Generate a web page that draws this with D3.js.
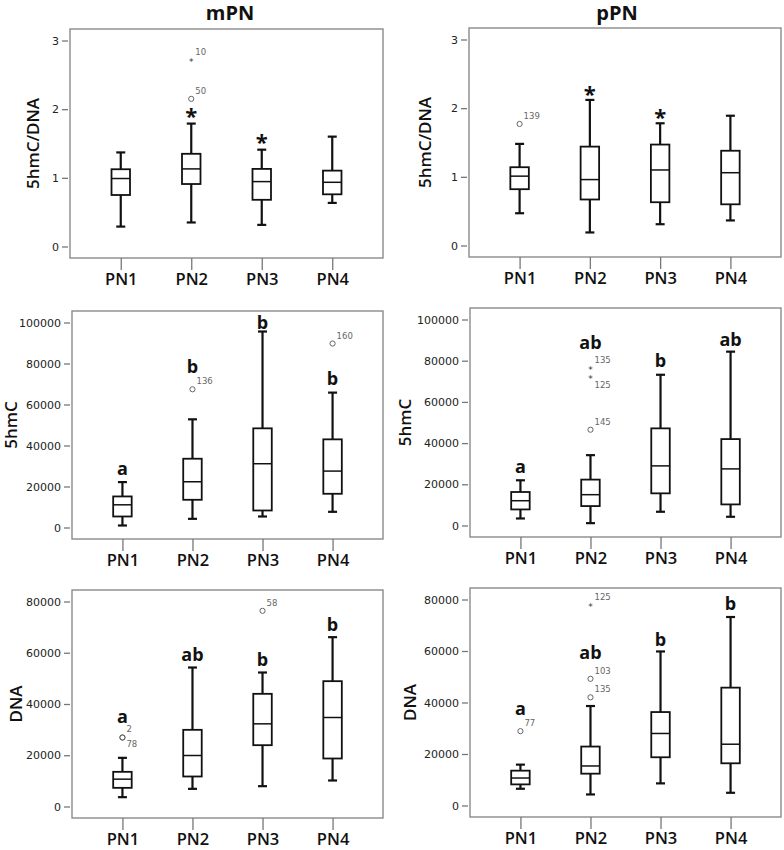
<!DOCTYPE html>
<html><head><meta charset="utf-8">
<script src="https://cdn.jsdelivr.net/npm/d3@7"></script>
<style>
body{margin:0;background:#fff;}
svg{display:block;}
</style></head>
<body>
<svg id="chart" width="784" height="850"></svg>
<script>
const categories = ["PN1","PN2","PN3","PN4"];
const columnTitles = ["mPN","pPN"];
const ratioTicks = [0,1,2,3];
const hmcTicks = [0,20000,40000,60000,80000,100000];
const dnaTicks = [0,20000,40000,60000,80000];

// box stats per category: [lower whisker, Q1, median, Q3, upper whisker]
const mPN_ratio = [[0.29,0.75,0.99,1.125,1.37],[0.35,0.91,1.13,1.35,1.79],[0.315,0.68,0.945,1.13,1.41],[0.635,0.76,0.935,1.105,1.6]];
const pPN_ratio = [[0.47,0.82,1.01,1.14,1.48],[0.19,0.67,0.96,1.44,2.12],[0.31,0.63,1.10,1.47,1.78],[0.365,0.60,1.06,1.38,1.89]];
const mPN_5hmC = [[980,5370,11070,15150,22150],[4230,13520,22310,33550,52770],[5370,8300,31110,48370,95600],[7650,16450,27520,43000,65800]];
const pPN_5hmC = [[3410,7800,12030,16260,21950],[1140,9430,14960,22280,34150],[6670,15610,28940,47150,73170],[4230,10240,27480,41950,84390]];
const mPN_DNA = [[3640,7280,10670,13530,18990],[6890,11710,19900,29920,54240],[7930,23930,32260,43970,52290],[10150,18730,34730,48910,66080]];
const pPN_DNA = [[6500,8200,10670,13530,15870],[4290,12360,15350,22890,38630],[8590,18730,27970,36290,59820],[4940,16390,23800,45770,73200]];

// outliers: [category, value, case label, kind ("o" outlier, "*" extreme), label below?]
const mPN_ratio_out = [["PN2",2.71,"10","*",false],["PN2",2.15,"50","o",false]];
const pPN_ratio_out = [["PN1",1.77,"139","o",false]];
const mPN_5hmC_out = [["PN2",67420,"136","o",false],["PN4",89740,"160","o",false]];
const pPN_5hmC_out = [["PN2",76260,"135","*",false],["PN2",71700,"125","*",true],["PN2",46500,"145","o",false]];
const mPN_DNA_out = [["PN1",26930,"2","o",false],["PN1",26930,"78","o",true],["PN3",76360,"58","o",false]];
const pPN_DNA_out = [["PN1",28880,"77","o",false],["PN2",77790,"125","*",false],["PN2",49190,"103","o",false],["PN2",42010,"135","o",false]];

// significance annotations: [category, text, level]
const mPN_ratio_sig = [["PN2","*",1.96],["PN3","*",1.575]];
const pPN_ratio_sig = [["PN2","*",2.27],["PN3","*",1.93]];
const mPN_5hmC_sig = [["PN1","a",28340],["PN2","b",78500],["PN3","b",100000],["PN4","b",72310]];
const pPN_5hmC_sig = [["PN1","a",28290],["PN2","ab",88620],["PN3","b",80000],["PN4","ab",90240]];
const mPN_DNA_sig = [["PN1","a",35120],["PN2","ab",59190],["PN3","b",57240],["PN4","b",70890]];
const pPN_DNA_sig = [["PN1","a",37460],["PN2","ab",59190],["PN3","b",64390],["PN4","b",78310]];

const panels = [
  {frame:[70,29,313,229], ylab:"5hmC/DNA", ylabOff:37, ticks:ratioTicks, box:mPN_ratio, out:mPN_ratio_out, sig:mPN_ratio_sig},
  {frame:[469,28,312,229], ylab:"5hmC/DNA", ylabOff:44, ticks:ratioTicks, box:pPN_ratio, out:pPN_ratio_out, sig:pPN_ratio_sig},
  {frame:[72,311,311,228], ylab:"5hmC", ylabOff:61, ticks:hmcTicks, box:mPN_5hmC, out:mPN_5hmC_out, sig:mPN_5hmC_sig},
  {frame:[470,308,311,229], ylab:"5hmC", ylabOff:65, ticks:hmcTicks, box:pPN_5hmC, out:pPN_5hmC_out, sig:pPN_5hmC_sig},
  {frame:[72,590,311,228], ylab:"DNA", ylabOff:56, ticks:dnaTicks, box:mPN_DNA, out:mPN_DNA_out, sig:mPN_DNA_sig},
  {frame:[470,588,311,229], ylab:"DNA", ylabOff:60, ticks:dnaTicks, box:pPN_DNA, out:pPN_DNA_out, sig:pPN_DNA_sig}
];

const svg = d3.select("#chart");
const font = "'Open Sans', sans-serif";

// column titles
[[230,"mPN"],[617,"pPN"]].forEach((t,i)=>{
  svg.append("text").attr("x",t[0]).attr("y",20).attr("text-anchor","middle")
    .attr("font-family",font).attr("font-weight",700).attr("font-size",20).attr("fill","#111")
    .text(columnTitles[i]);
});

panels.forEach(p=>{
  const [fx,fy,fw,fh] = p.frame;
  const g = svg.append("g");
  const x = d3.scalePoint().domain(categories).range([fx,fx+fw]).padding(0.72);
  const y = d3.scaleLinear().domain([0,d3.max(p.ticks)]).range([fy+fh-11.5, fy+11.5]);

  // frame
  g.append("rect").attr("x",fx).attr("y",fy).attr("width",fw).attr("height",fh)
    .attr("fill","none").attr("stroke","#8a8a8a").attr("stroke-width",1.4);

  // y axis
  const yAxis = d3.axisLeft(y).tickValues(p.ticks).tickSize(6).tickPadding(3).tickFormat(d3.format("d"));
  const ya = g.append("g").attr("transform",`translate(${fx-2},0)`).call(yAxis);
  ya.select(".domain").remove();
  ya.selectAll(".tick line").attr("stroke","#777").attr("stroke-width",1.3);
  ya.selectAll(".tick text").attr("font-family","'DejaVu Sans', sans-serif").attr("font-size",11)
    .attr("fill","#222").attr("font-weight",400);

  // x axis
  const xAxis = d3.axisBottom(x).tickSize(12).tickPadding(3);
  const xa = g.append("g").attr("transform",`translate(0,${fy+fh})`).call(xAxis);
  xa.select(".domain").remove();
  xa.selectAll(".tick line").attr("stroke","#777").attr("stroke-width",1.3);
  xa.selectAll(".tick text").attr("font-family",font).attr("font-size",16.5).attr("font-weight",600)
    .attr("fill","#111");

  // y label
  g.append("text").attr("transform",`translate(${fx-p.ylabOff},${fy+fh/2}) rotate(-90)`)
    .attr("text-anchor","middle").attr("dy","0.35em")
    .attr("font-family",font).attr("font-size",17).attr("font-weight",600).attr("fill","#111")
    .text(p.ylab);

  // boxes
  const bw = 18.5, cw = 9;
  categories.forEach((c,i)=>{
    const s = p.box[i];
    const cx = x(c);
    const bg = g.append("g").attr("stroke","#111").attr("fill","none");
    bg.append("line").attr("x1",cx).attr("x2",cx).attr("y1",y(s[3])).attr("y2",y(s[4])).attr("stroke-width",2.2);
    bg.append("line").attr("x1",cx).attr("x2",cx).attr("y1",y(s[0])).attr("y2",y(s[1])).attr("stroke-width",2.2);
    bg.append("line").attr("x1",cx-cw/2).attr("x2",cx+cw/2).attr("y1",y(s[4])).attr("y2",y(s[4])).attr("stroke-width",2.2);
    bg.append("line").attr("x1",cx-cw/2).attr("x2",cx+cw/2).attr("y1",y(s[0])).attr("y2",y(s[0])).attr("stroke-width",2.2);
    bg.append("rect").attr("x",cx-bw/2).attr("y",y(s[3])).attr("width",bw).attr("height",y(s[1])-y(s[3]))
      .attr("fill","#fff").attr("stroke-width",1.8);
    bg.append("line").attr("x1",cx-bw/2).attr("x2",cx+bw/2).attr("y1",y(s[2])).attr("y2",y(s[2])).attr("stroke-width",1.5);
  });

  // outliers
  p.out.forEach(o=>{
    const cx = x(o[0]), cy = y(o[1]);
    if(o[3]==="o"){
      g.append("circle").attr("cx",cx).attr("cy",cy).attr("r",2.6).attr("fill","none")
        .attr("stroke","#666").attr("stroke-width",1);
    } else {
      g.append("text").attr("x",cx).attr("y",cy+4.5).attr("text-anchor","middle")
        .attr("font-family","'DejaVu Sans', sans-serif").attr("font-size",9).attr("fill","#333").text("*");
    }
    g.append("text").attr("x",cx+4).attr("y",o[4]? cy+10 : cy-5)
      .attr("font-family","'DejaVu Sans', sans-serif").attr("font-size",8.5).attr("fill","#666").text(o[2]);
  });

  // significance annotations
  p.sig.forEach(s=>{
    const cx = x(s[0]), cy = y(s[2]);
    if(s[1]==="*"){
      g.append("text").attr("x",cx).attr("y",cy+12).attr("text-anchor","middle")
        .attr("font-family",font).attr("font-weight",700).attr("font-size",22).attr("fill","#111").text("*");
    } else {
      g.append("text").attr("x",cx).attr("y",cy+6).attr("text-anchor","middle")
        .attr("font-family",font).attr("font-weight",700).attr("font-size",18).attr("fill","#111").text(s[1]);
    }
  });
});
</script>
</body></html>
